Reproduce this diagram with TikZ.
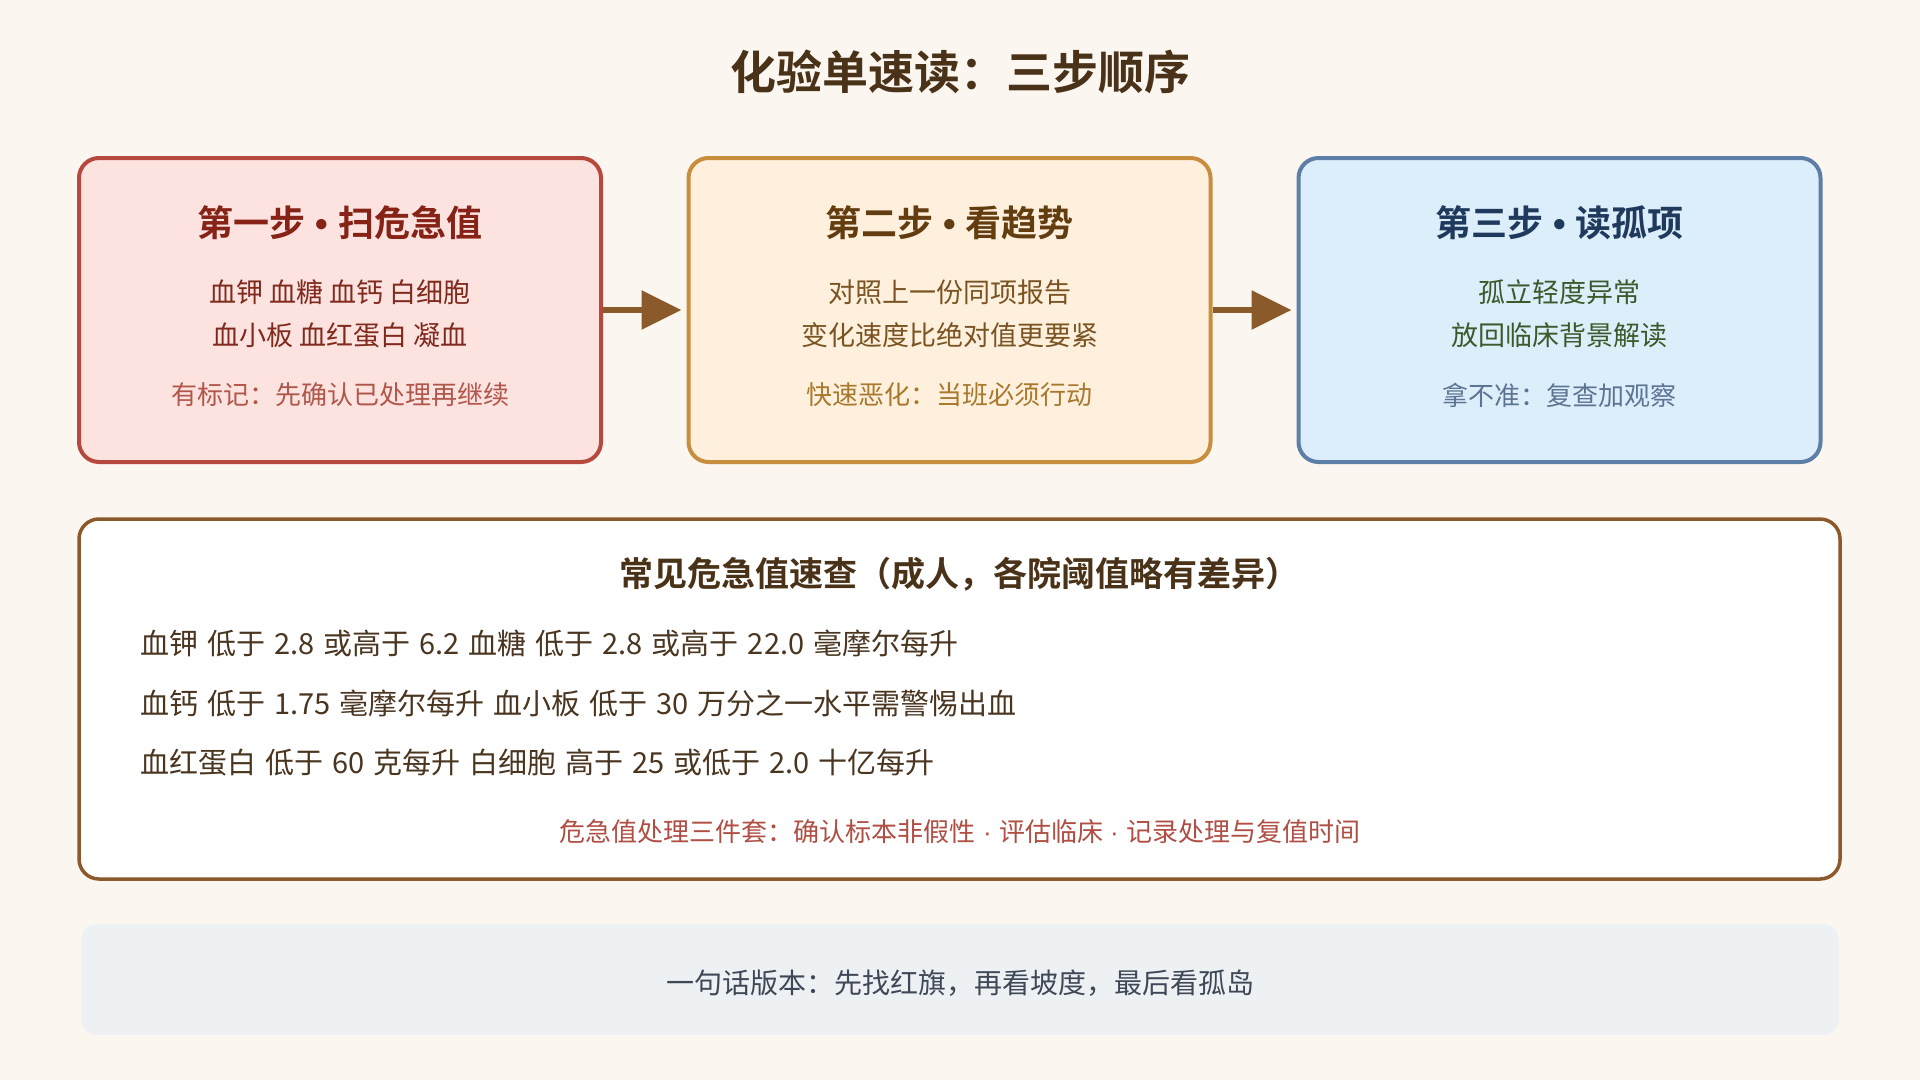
\documentclass[tikz,border=0pt]{standalone}
\usepackage{fontspec}
\setmainfont{Noto Sans CJK SC}[BoldFont={Noto Sans CJK SC Bold}]
\newfontfamily\latin{Liberation Sans}
\usetikzlibrary{arrows.meta}
\definecolor{bg}{HTML}{FBF6F0}
\definecolor{titlec}{HTML}{4A3218}
\definecolor{rfill}{HTML}{FDE3E0}
\definecolor{rdraw}{HTML}{B5493E}
\definecolor{rtitle}{HTML}{862216}
\definecolor{rtext}{HTML}{80291D}
\definecolor{rnote}{HTML}{B0564A}
\definecolor{ofill}{HTML}{FEF0DC}
\definecolor{odraw}{HTML}{C88E3E}
\definecolor{otitle}{HTML}{633D10}
\definecolor{otext}{HTML}{7A5322}
\definecolor{onote}{HTML}{A8782E}
\definecolor{bfill}{HTML}{DDEEFB}
\definecolor{bdraw}{HTML}{5D7EA6}
\definecolor{btitle}{HTML}{1F3A5C}
\definecolor{btext}{HTML}{3B5A2C}
\definecolor{bnote}{HTML}{5C7494}
\definecolor{arrowc}{HTML}{8B5A2B}
\definecolor{tabtitle}{HTML}{4A3218}
\definecolor{tabtext}{HTML}{4A3520}
\definecolor{tabred}{HTML}{B04E44}
\definecolor{barfill}{HTML}{EEF1F4}
\definecolor{bartext}{HTML}{3F4856}
\newcommand{\bul}{{\latin\ \textbullet\ }}
\newcommand{\mdot}{{\latin\ ·\ }}
\newcommand{\rowfont}{\fontsize{29pt}{29pt}\selectfont\spaceskip=9pt\relax}
\begin{document}
\begin{tikzpicture}[x=1pt,y=-1pt,
  card/.style={draw, rounded corners=20pt, line width=4pt, minimum width=522pt, minimum height=304pt, inner sep=0pt},
  txt/.style={inner sep=0pt, font=\fontsize{#1pt}{#1pt}\selectfont},
  btxt/.style={inner sep=0pt, font=\fontsize{#1pt}{#1pt}\selectfont\bfseries},
  rowtxt/.style={inner sep=0pt, anchor=west, text=tabtext, font=\rowfont},
  flow/.style={draw=arrowc, line width=6pt, -{Triangle[length=40pt,width=38pt]}, shorten >=5pt}
]
\useasboundingbox[fill=bg] (0,0) rectangle (1920,1080);

\node[btxt=46, text=titlec] (title) at (960,72) {化验单速读：三步顺序};

% step cards
\node[card, draw=rdraw, fill=rfill] (b1) at (340,310) {};
\node[card, draw=odraw, fill=ofill] (b2) at (949.5,310) {};
\node[card, draw=bdraw, fill=bfill] (b3) at (1559.5,310) {};

\node[btxt=36, text=rtitle] (t1) at (340,223) {第一步\bul 扫危急值};
\node[txt=27, text=rtext] (l1a) at (340,292) {血钾 血糖 血钙 白细胞};
\node[txt=27, text=rtext] (l1b) at (340,335) {血小板 血红蛋白 凝血};
\node[txt=26, text=rnote] (n1) at (340,395) {有标记：先确认已处理再继续};

\node[btxt=36, text=otitle] (t2) at (949.5,223) {第二步\bul 看趋势};
\node[txt=27, text=otext] (l2a) at (949.5,292) {对照上一份同项报告};
\node[txt=27, text=otext] (l2b) at (949.5,335) {变化速度比绝对值更要紧};
\node[txt=26, text=onote] (n2) at (949.5,395) {快速恶化：当班必须行动};

\node[btxt=36, text=btitle] (t3) at (1559.5,223) {第三步\bul 读孤项};
\node[txt=27, text=btext] (l3a) at (1559.5,292) {孤立轻度异常};
\node[txt=27, text=btext] (l3b) at (1559.5,335) {放回临床背景解读};
\node[txt=26, text=bnote] (n3) at (1559.5,395) {拿不准：复查加观察};

\draw[flow] (b1.east) -- (b2.west);
\draw[flow] (b2.east) -- (b3.west);

% table box
\node[draw=arrowc, fill=white, line width=3.5pt, rounded corners=20pt, minimum width=1761pt, minimum height=360pt, inner sep=0pt] (tab) at (959.5,699) {};
\node[btxt=34, text=tabtitle] (tabt) at (959.5,574) {常见危急值速查（成人，各院阈值略有差异）};
\node[rowtxt] (r1) at (140,643) {血钾 低于 2.8 或高于 6.2 血糖 低于 2.8 或高于 22.0 毫摩尔每升};
\node[rowtxt] (r2) at (140,703) {血钙 低于 1.75 毫摩尔每升 血小板 低于 30 万分之一水平需警惕出血};
\node[rowtxt] (r3) at (140,763) {血红蛋白 低于 60 克每升 白细胞 高于 25 或低于 2.0 十亿每升};
\node[txt=26, text=tabred] (r4) at (960,832) {危急值处理三件套：确认标本非假性\mdot 评估临床\mdot 记录处理与复值时间};

% bottom bar
\node[fill=barfill, rounded corners=16pt, minimum width=1758pt, minimum height=111pt, inner sep=0pt] (bar) at (960,979.5) {};
\node[txt=28, text=bartext] (bart) at (960,983) {一句话版本：先找红旗，再看坡度，最后看孤岛};
\end{tikzpicture}
\end{document}
